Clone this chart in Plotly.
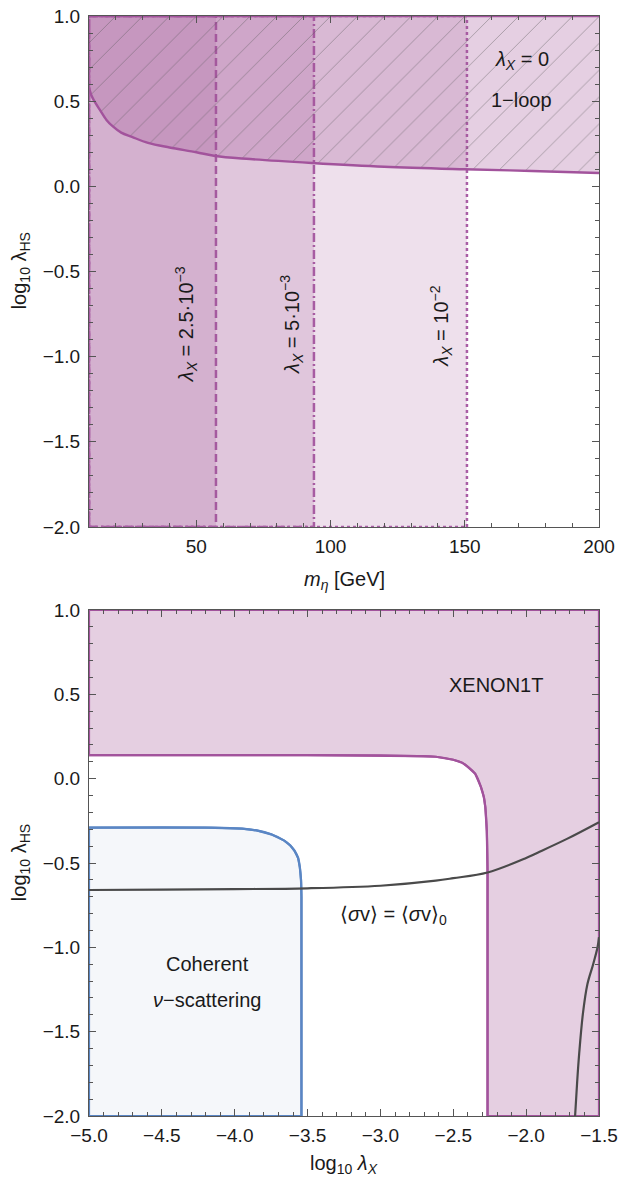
import plotly.graph_objects as go

# ---------------- data: top panel ----------------
mass_range = [10, 200]
lhs_range = [-2.0, 1.0]
# lambda_X constraint limits on m_eta (GeV)
lamx_labels = ["2.5·10<sup>−3</sup>", "5·10<sup>−3</sup>", "10<sup>−2</sup>"]
mass_limits = [57.3, 93.8, 150.8]
label_mass = [46.1, 85.5, 141.4]
label_lhs = [-0.81, -0.81, -0.82]
# 1-loop (lambda_X = 0) boundary
loop_mass = [10, 11, 12, 14, 16.5, 19, 22, 26, 32, 40, 50, 57, 70, 93, 120, 150, 175, 200]
loop_lhs = [0.58, 0.53, 0.50, 0.45, 0.39, 0.35, 0.315, 0.29, 0.255, 0.228, 0.20, 0.178,
            0.16, 0.137, 0.115, 0.10, 0.09, 0.078]

# ---------------- data: bottom panel ----------------
lx_range = [-5.0, -1.5]
xenon_lx = [-5.0, -3.5, -3.0, -2.75, -2.62, -2.5, -2.44, -2.40, -2.35, -2.31, -2.29,
            -2.28, -2.27, -2.265, -2.265]
xenon_lhs = [0.14, 0.14, 0.138, 0.134, 0.13, 0.112, 0.095, 0.07, 0.03, -0.05, -0.11,
             -0.17, -0.31, -0.55, -2.0]
coh_lx = [-5.0, -4.2, -3.95, -3.85, -3.75, -3.66, -3.62, -3.59, -3.565, -3.553, -3.545,
          -3.542, -3.542]
coh_lhs = [-0.29, -0.29, -0.296, -0.307, -0.33, -0.367, -0.395, -0.427, -0.47, -0.526,
           -0.60, -0.70, -2.0]
sv_lx = [-5.0, -4.5, -4.0, -3.5, -3.0, -2.62, -2.5, -2.265, -2.0, -1.94, -1.72, -1.5]
sv_lhs = [-0.66, -0.658, -0.655, -0.65, -0.635, -0.605, -0.59, -0.556, -0.47, -0.446,
          -0.357, -0.258]
sv2_lx = [-1.664, -1.65, -1.636, -1.61, -1.58, -1.54, -1.51, -1.5]
sv2_lhs = [-2.0, -1.8, -1.63, -1.39, -1.22, -1.10, -1.0, -0.94]

# ---------------- style ----------------
PURPLE = (161, 83, 149)
fill18 = "rgba(%d,%d,%d,0.18)" % PURPLE
fill28 = "rgba(%d,%d,%d,0.28)" % PURPLE
CURVE = "#a2539c"
VLINE = "#a95ea5"
BLUE = "#5a86c4"
DARK = "#4a4a4a"
FONT = "Liberation Sans, Arial, sans-serif"
TXT = "#1a1a1a"
dashes = ["8px,4px", "9px,3px,2px,3px", "3px,3px"]

fig = go.Figure()

# top panel: lambda_X rectangles
for lim, dsh in zip(mass_limits, dashes):
    fig.add_trace(go.Scatter(
        x=[mass_range[0], lim, lim, mass_range[0], mass_range[0]],
        y=[lhs_range[0], lhs_range[0], lhs_range[1], lhs_range[1], lhs_range[0]],
        mode="lines", fill="toself", fillcolor=fill18,
        line=dict(color=VLINE, width=2.5, dash=dsh),
        xaxis="x", yaxis="y", hoverinfo="skip", showlegend=False))

# top panel: 1-loop hatched region
fig.add_trace(go.Scatter(x=mass_range, y=[lhs_range[1], lhs_range[1]], mode="lines",
                         line=dict(width=2.4, color=CURVE), xaxis="x", yaxis="y",
                         hoverinfo="skip", showlegend=False))
fig.add_trace(go.Scatter(
    x=loop_mass, y=loop_lhs, mode="lines", line_shape="spline",
    fill="tonexty", fillcolor=fill28,
    fillpattern=dict(shape="/", size=19, solidity=0.05, fgcolor="#5a5a5a",
                     fgopacity=0.45, bgcolor=fill28),
    line=dict(color=CURVE, width=2.4), xaxis="x", yaxis="y",
    hoverinfo="skip", showlegend=False))

# bottom panel: XENON1T
fig.add_trace(go.Scatter(
    x=[lx_range[0]] + xenon_lx + [lx_range[1], lx_range[1], lx_range[0], lx_range[0]],
    y=[lhs_range[1]] + xenon_lhs + [lhs_range[0], lhs_range[1], lhs_range[1], lhs_range[1]],
    mode="lines", fill="toself", fillcolor=fill28, line=dict(width=2.2, color=CURVE),
    xaxis="x2", yaxis="y2", hoverinfo="skip", showlegend=False))
fig.add_trace(go.Scatter(x=xenon_lx, y=xenon_lhs, mode="lines", line_shape="spline",
                         line=dict(color=CURVE, width=2.2), xaxis="x2", yaxis="y2",
                         hoverinfo="skip", showlegend=False))
# bottom panel: coherent nu-scattering
fig.add_trace(go.Scatter(
    x=coh_lx + [lx_range[0], lx_range[0]],
    y=coh_lhs + [lhs_range[0], coh_lhs[0]],
    mode="lines", fill="toself", fillcolor="#f5f7fa", line=dict(width=2.2, color=BLUE),
    xaxis="x2", yaxis="y2", hoverinfo="skip", showlegend=False))
fig.add_trace(go.Scatter(x=coh_lx, y=coh_lhs, mode="lines", line_shape="spline",
                         line=dict(color=BLUE, width=2.2), xaxis="x2", yaxis="y2",
                         hoverinfo="skip", showlegend=False))
# bottom panel: <sigma v> curves
for xs, ys in [(sv_lx, sv_lhs), (sv2_lx, sv2_lhs)]:
    fig.add_trace(go.Scatter(x=xs, y=ys, mode="lines", line_shape="spline",
                             line=dict(color=DARK, width=2.2), xaxis="x2", yaxis="y2",
                             hoverinfo="skip", showlegend=False))

axis_common = dict(showline=True, linecolor="#555", linewidth=1, mirror="allticks",
                   ticks="inside", ticklen=7, tickwidth=1, tickcolor="#555",
                   showgrid=False, zeroline=False, automargin=False,
                   tickfont=dict(family=FONT, size=19, color=TXT))

fig.update_layout(
    width=619, height=1180,
    margin=dict(l=89, r=20, t=16, b=64, autoexpand=False),
    paper_bgcolor="white", plot_bgcolor="white",
    xaxis=dict(domain=[0, 1], anchor="y", range=mass_range, dtick=50, tick0=0,
               ticklabelstandoff=2,
               minor=dict(ticks="inside", ticklen=4, dtick=10, tick0=0, tickcolor="#555"),
               **axis_common),
    yaxis=dict(domain=[0.5355, 1], anchor="x", range=lhs_range, dtick=0.5, tick0=0,
               tickformat=".1f", ticklabelstandoff=4,
               minor=dict(ticks="inside", ticklen=4, dtick=0.1, tick0=0, tickcolor="#555"),
               **axis_common),
    xaxis2=dict(domain=[0, 1], anchor="y2", range=lx_range, dtick=0.5, tick0=0,
                tickformat=".1f", ticklabelstandoff=2,
                minor=dict(ticks="inside", ticklen=4, dtick=0.1, tick0=0, tickcolor="#555"),
                **axis_common),
    yaxis2=dict(domain=[0, 0.46], anchor="x2", range=lhs_range, dtick=0.5, tick0=0,
                tickformat=".1f", ticklabelstandoff=4,
                minor=dict(ticks="inside", ticklen=4, dtick=0.1, tick0=0, tickcolor="#555"),
                **axis_common),
)

annots = []
f = dict(family=FONT, size=20, color=TXT)
C = dict(xanchor="center", yanchor="middle", showarrow=False, font=f)
for lab, xm, ym in zip(lamx_labels, label_mass, label_lhs):
    annots.append(dict(x=xm, y=ym, xref="x", yref="y", textangle=-90,
                       text="<i>λ</i><sub><i>X</i></sub> = " + lab, **C))
annots.append(dict(x=171.3, y=0.74, xref="x", yref="y",
                   text="<i>λ</i><sub><i>X</i></sub> = 0", **C))
annots.append(dict(x=171.3, y=0.505, xref="x", yref="y", text="1−loop", **C))
annots.append(dict(x=-2.21, y=0.555, xref="x2", yref="y2", text="XENON1T", **C))
annots.append(dict(x=-2.91, y=-0.81, xref="x2", yref="y2",
                   text="⟨<i>σ</i>v⟩ = ⟨<i>σ</i>v⟩<sub>0</sub>", **C))
annots.append(dict(x=-4.19, y=-1.10, xref="x2", yref="y2", text="Coherent", **C))
annots.append(dict(x=-4.19, y=-1.313, xref="x2", yref="y2",
                   text="<i>ν</i>−scattering", **C))
# axis titles
annots.append(dict(x=0.5, y=0.487, xref="paper", yref="paper",
                   text="<i>m</i><sub><i>η</i></sub> [GeV]", **C))
annots.append(dict(x=0.5, y=-0.044, xref="paper", yref="paper",
                   text="log<sub>10</sub> <i>λ</i><sub><i>X</i></sub>", **C))
for yc in [0.768, 0.23]:
    annots.append(dict(x=-0.135, y=yc, xref="paper", yref="paper", textangle=-90,
                       text="log<sub>10</sub> λ<sub>HS</sub>", **C))
fig.update_layout(annotations=annots)

fig.write_html("out.html", config={"displayModeBar": False},
               post_script="document.body.style.margin='0';"
                           "document.body.style.overflow='hidden';")
